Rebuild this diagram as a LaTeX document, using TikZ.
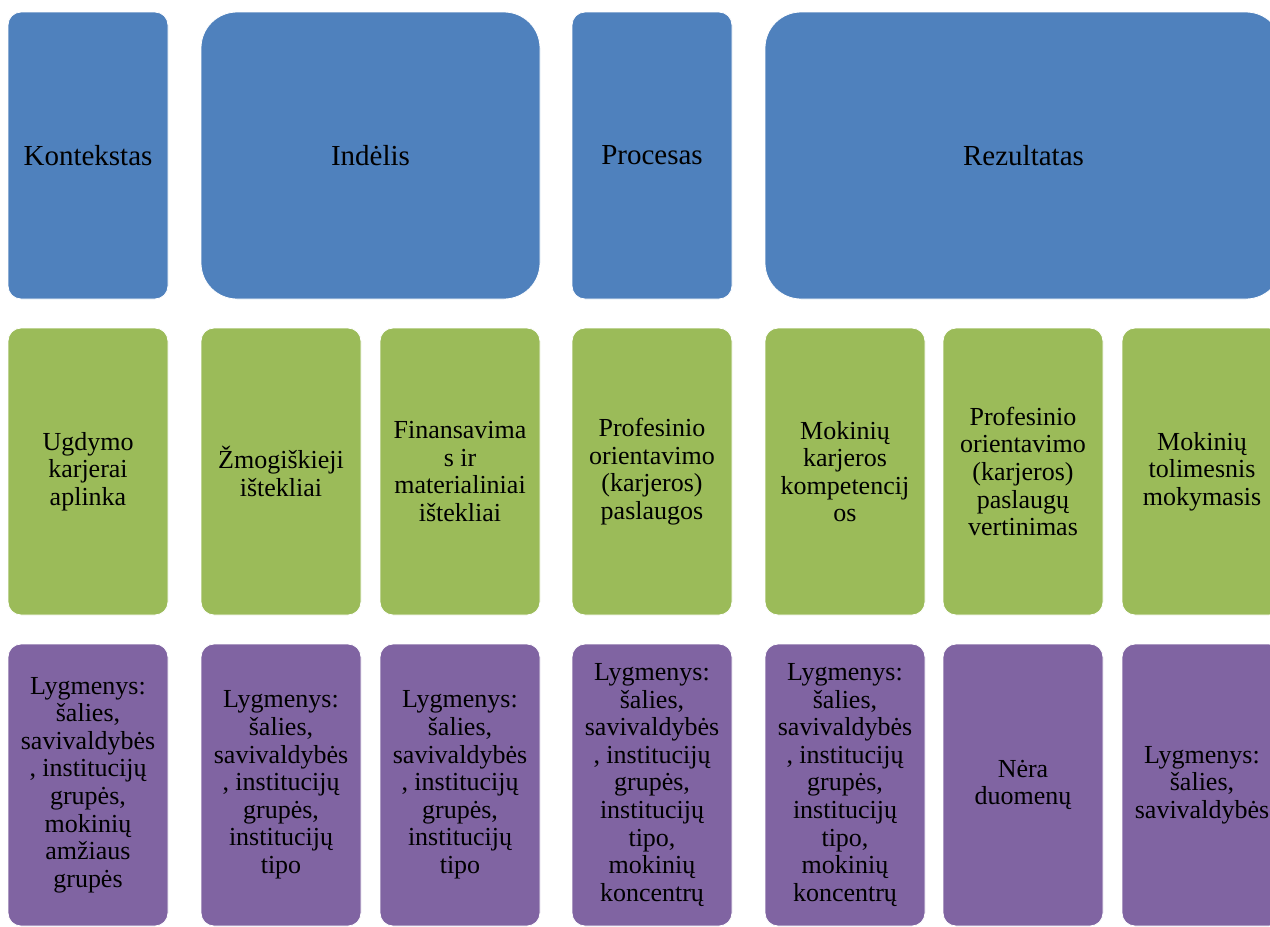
\documentclass[tikz,border=0pt]{standalone}
\usepackage{fontspec}
\setmainfont{Liberation Serif}
\definecolor{cblue}{HTML}{4F81BD}
\definecolor{cgreen}{HTML}{9BBB59}
\definecolor{cpurple}{HTML}{8064A2}
\begin{document}
\begin{tikzpicture}[x=1pt,y=-1pt,
  box/.style={rectangle, rounded corners=13pt, draw=white, line width=0.8pt, inner sep=0pt, outer sep=0pt, align=center, anchor=north west, text=black},
  bigbox/.style={box, fill=cblue, rounded corners=36pt, minimum height=287pt, font=\fontsize{29}{32}\selectfont},
  bluebox/.style={box, fill=cblue, minimum width=160pt, minimum height=287pt, font=\fontsize{29}{32}\selectfont},
  greenbox/.style={box, fill=cgreen, minimum width=160pt, minimum height=287pt, font=\fontsize{26}{27.6}\selectfont},
  purplebox/.style={box, fill=cpurple, minimum width=160pt, minimum height=282pt, font=\fontsize{26}{27.6}\selectfont}
]
\useasboundingbox (0,0) rectangle (1270,927);
\clip (0,0) rectangle (1270,927);
% top row
\node[bluebox] (b1) at (8,12) {Kontekstas};
\node[bigbox, minimum width=339pt] (b2) at (201,12) {Indėlis};
\node[bluebox] (b3) at (572,12) {Procesas};
\node[bigbox, minimum width=517pt] (b4) at (765,12) {Rezultatas};
% middle row
\node[greenbox] (g1) at (8,328) {Ugdymo\\karjerai\\aplinka};
\node[greenbox] (g2) at (201,328) {Žmogiškieji\\ištekliai};
\node[greenbox] (g3) at (380,328) {Finansavima\\s ir\\materialiniai\\ištekliai};
\node[greenbox] (g4) at (572,328) {Profesinio\\orientavimo\\(karjeros)\\paslaugos};
\node[greenbox] (g5) at (765,328) {Mokinių\\karjeros\\kompetencij\\os};
\node[greenbox] (g6) at (943,328) {Profesinio\\orientavimo\\(karjeros)\\paslaugų\\vertinimas};
\node[greenbox] (g7) at (1122,328) {Mokinių\\tolimesnis\\mokymasis};
% bottom row
\node[purplebox] (p1) at (8,644) {Lygmenys:\\šalies,\\savivaldybės\\, institucijų\\grupės,\\mokinių\\amžiaus\\grupės};
\node[purplebox] (p2) at (201,644) {Lygmenys:\\šalies,\\savivaldybės\\, institucijų\\grupės,\\institucijų\\tipo};
\node[purplebox] (p3) at (380,644) {Lygmenys:\\šalies,\\savivaldybės\\, institucijų\\grupės,\\institucijų\\tipo};
\node[purplebox] (p4) at (572,644) {Lygmenys:\\šalies,\\savivaldybės\\, institucijų\\grupės,\\institucijų\\tipo,\\mokinių\\koncentrų};
\node[purplebox] (p5) at (765,644) {Lygmenys:\\šalies,\\savivaldybės\\, institucijų\\grupės,\\institucijų\\tipo,\\mokinių\\koncentrų};
\node[purplebox] (p6) at (943,644) {Nėra\\duomenų};
\node[purplebox] (p7) at (1122,644) {Lygmenys:\\šalies,\\savivaldybės};
\end{tikzpicture}
\end{document}
